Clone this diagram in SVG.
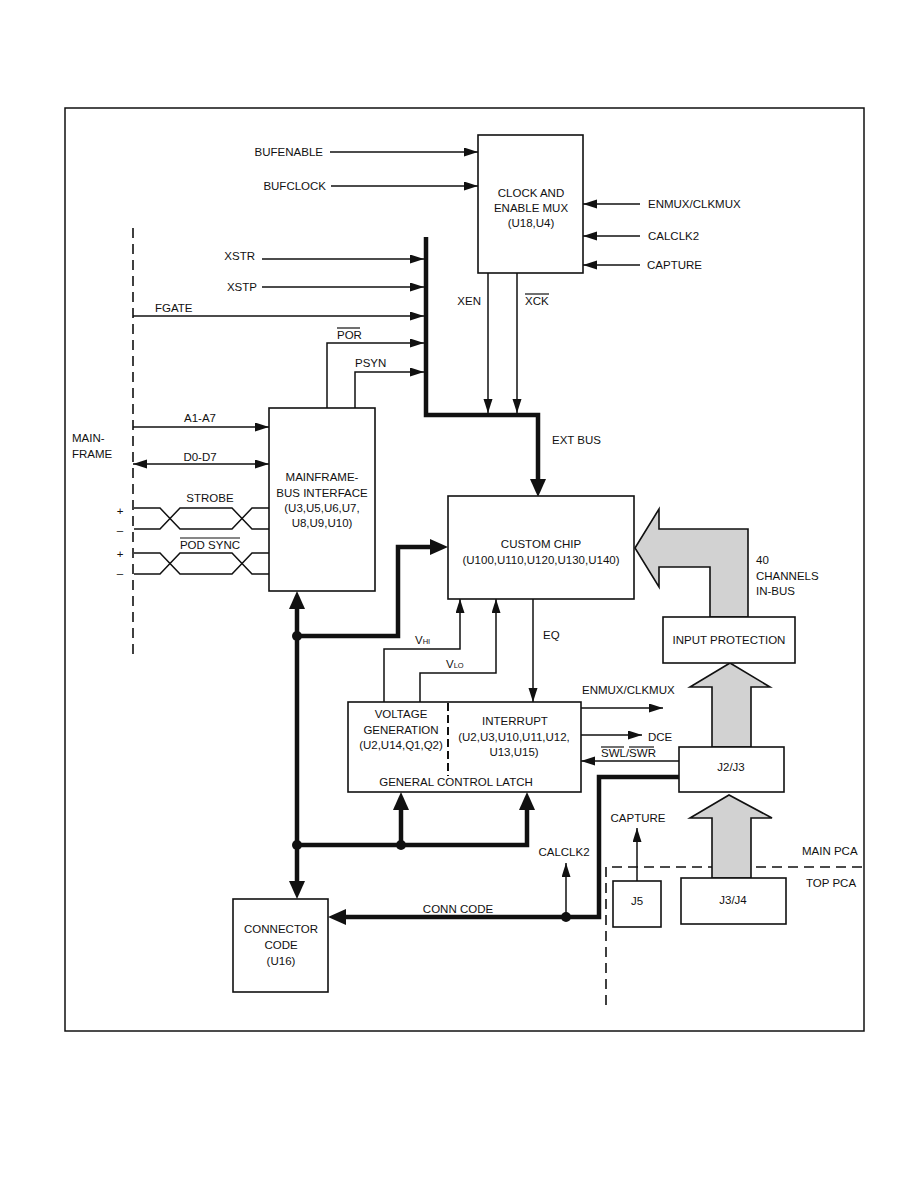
<svg xmlns="http://www.w3.org/2000/svg" width="918" height="1188" viewBox="0 0 918 1188">
<style>
text{font-family:"Liberation Sans",Arial,sans-serif;font-size:11.5px;fill:#111}
.m{text-anchor:middle}
.e{text-anchor:end}
.box{fill:#fff;stroke:#111;stroke-width:1.6}
.t{fill:none;stroke:#111;stroke-width:1.5}
.ta{fill:none;stroke:#111;stroke-width:1.5;marker-end:url(#ah)}
.k{fill:none;stroke:#111;stroke-width:4.5;stroke-linejoin:miter}
.ka{fill:#111}
.d{fill:none;stroke:#111;stroke-width:1.6;stroke-dasharray:10 6}
.sh{fill:#d2d2d2;stroke:#111;stroke-width:1.6}
.ob{stroke:#111;stroke-width:1.2}
</style>
<defs>
<marker id="ah" markerUnits="userSpaceOnUse" markerWidth="15" markerHeight="10" refX="14" refY="4.5" orient="auto-start-reverse">
<path d="M0,0 L14,4.5 L0,9 z" fill="#111"/>
</marker>
</defs>
<rect x="0" y="0" width="918" height="1188" fill="#fff"/>
<rect x="65" y="108" width="799" height="923" fill="none" stroke="#111" stroke-width="1.5"/>

<g id="dashed">
<line class="d" x1="133" y1="228" x2="133" y2="660"/>
<polyline class="d" points="606,1005 606,867 864,867"/>
</g>

<g id="connectors">
<line class="ta" x1="330" y1="152" x2="478" y2="152"/>
<line class="ta" x1="331" y1="186" x2="478" y2="186"/>
<line class="ta" x1="640" y1="204" x2="583" y2="204"/>
<line class="ta" x1="640" y1="236" x2="583" y2="236"/>
<line class="ta" x1="640" y1="265" x2="583" y2="265"/>
<line class="ta" x1="262" y1="259" x2="424" y2="259"/>
<line class="ta" x1="262" y1="287" x2="424" y2="287"/>
<line class="ta" x1="133" y1="316" x2="424" y2="316"/>
<path class="ta" d="M327,408 V343 H424"/>
<path class="ta" d="M355,408 V372 H424"/>
<path class="ta" d="M488,273 V413"/>
<path class="ta" d="M517,273 V413"/>
<line class="ta" x1="133" y1="427" x2="269" y2="427"/>
<line class="ta" x1="133" y1="464" x2="269" y2="464" marker-start="url(#ah)"/>
<path class="t" d="M134,508 H160 L180,529 H232 L252,508 H269"/>
<path class="t" d="M134,529 H160 L180,508 H232 L252,529 H269"/>
<path class="t" d="M134,553 H160 L180,574 H232 L252,553 H269"/>
<path class="t" d="M134,574 H160 L180,553 H232 L252,574 H269"/>
<path class="ta" d="M384,702 V649 H460 V599"/>
<path class="ta" d="M420,702 V673 H496 V599"/>
<path class="ta" d="M533,599 V702"/>
<line class="ta" x1="581" y1="708" x2="663" y2="708"/>
<line class="ta" x1="581" y1="735" x2="642" y2="735"/>
<line class="ta" x1="679" y1="761" x2="581" y2="761"/>
<line class="ta" x1="566" y1="917" x2="566" y2="863"/>
<line class="ta" x1="637" y1="881" x2="637" y2="828"/>

<path class="k" d="M426,237 V415 H538 V480"/>
<polygon class="ka" points="530,479 546,479 538,497"/>
<path class="k" d="M297,609 V882"/>
<polygon class="ka" points="289,609 305,609 297,591"/>
<polygon class="ka" points="289,881 305,881 297,899"/>
<path class="k" d="M297,636 H398 V547 H431"/>
<polygon class="ka" points="430,539 430,555 448,547"/>
<path class="k" d="M297,845 H527 V809"/>
<polygon class="ka" points="519,810 535,810 527,792"/>
<path class="k" d="M401,845 V809"/>
<polygon class="ka" points="393,810 409,810 401,792"/>
<path class="k" d="M679,777 H599 V917 H345"/>
<polygon class="ka" points="346,909 346,925 328,917"/>
<circle cx="297" cy="636" r="5" fill="#111"/>
<circle cx="297" cy="845" r="5" fill="#111"/>
<circle cx="401" cy="845" r="5" fill="#111"/>
<circle cx="566" cy="917" r="5" fill="#111"/>

<polygon class="sh" points="635,548 659,509 659,529 748,529 748,617 710,617 710,567 659,567 659,587"/>
<polygon class="sh" points="712,747 712,687 690,687 730,663 770,687 751,687 751,747"/>
<polygon class="sh" points="712,878 712,818 690,818 729,795 772,818 751,818 751,878"/>
</g>

<g id="labels">
<text class="e" x="323" y="156">BUFENABLE</text>
<text class="e" x="326" y="190">BUFCLOCK</text>
<text x="648" y="208">ENMUX/CLKMUX</text>
<text x="648" y="240">CALCLK2</text>
<text x="647" y="269">CAPTURE</text>
<text class="e" x="255" y="260">XSTR</text>
<text class="e" x="257" y="291">XSTP</text>
<text x="155" y="312">FGATE</text>
<text x="337" y="339">POR</text>
<line class="ob" x1="337" y1="328" x2="360" y2="328"/>
<text x="355" y="367">PSYN</text>
<text class="e" x="481" y="305">XEN</text>
<text x="525" y="305">XCK</text>
<line class="ob" x1="525" y1="294" x2="549" y2="294"/>
<text x="552" y="444">EXT BUS</text>
<text x="72" y="442">MAIN-</text>
<text x="72" y="458">FRAME</text>
<text class="m" x="200" y="422">A1-A7</text>
<text class="m" x="200" y="461">D0-D7</text>
<text class="m" x="210" y="502">STROBE</text>
<text class="m" x="210" y="549">POD SYNC</text>
<line class="ob" x1="180" y1="538" x2="240" y2="538"/>
<text class="m" x="120" y="515">+</text>
<text class="m" x="120" y="534">–</text>
<text class="m" x="120" y="558">+</text>
<text class="m" x="120" y="577">–</text>
<text x="415" y="644">V<tspan font-size="7.5px">HI</tspan></text>
<text x="446" y="668">V<tspan font-size="7.5px">LO</tspan></text>
<text x="543" y="639">EQ</text>
<text x="756" y="564">40</text>
<text x="756" y="580">CHANNELS</text>
<text x="756" y="595">IN-BUS</text>
<text x="582" y="694">ENMUX/CLKMUX</text>
<text x="648" y="741">DCE</text>
<text x="601" y="757">SWL/SWR</text>
<line class="ob" x1="601" y1="747" x2="624" y2="747"/>
<line class="ob" x1="629" y1="747" x2="654" y2="747"/>
<text class="m" x="638" y="822">CAPTURE</text>
<text x="802" y="855">MAIN PCA</text>
<text x="806" y="887">TOP PCA</text>
<text class="m" x="564" y="856">CALCLK2</text>
<text class="m" x="458" y="913">CONN CODE</text>
</g>

<g id="clock-mux">
<rect class="box" x="478" y="135" width="105" height="138"/>
<text class="m" x="531" y="197">CLOCK AND</text>
<text class="m" x="531" y="212">ENABLE MUX</text>
<text class="m" x="531" y="227">(U18,U4)</text>
</g>
<g id="mainframe-bus-interface">
<rect class="box" x="269" y="408" width="106" height="183"/>
<text class="m" x="322" y="481">MAINFRAME-</text>
<text class="m" x="322" y="497">BUS INTERFACE</text>
<text class="m" x="322" y="512">(U3,U5,U6,U7,</text>
<text class="m" x="322" y="527">U8,U9,U10)</text>
</g>
<g id="custom-chip">
<rect class="box" x="448" y="496" width="186" height="103"/>
<text class="m" x="541" y="548">CUSTOM CHIP</text>
<text class="m" x="541" y="564">(U100,U110,U120,U130,U140)</text>
</g>
<g id="input-protection">
<rect class="box" x="663" y="617" width="132" height="46"/>
<text class="m" x="729" y="644">INPUT PROTECTION</text>
</g>
<g id="general-control-latch">
<rect class="box" x="348" y="702" width="233" height="90"/>
<line x1="448" y1="703" x2="448" y2="776" stroke="#111" stroke-width="2" stroke-dasharray="8 4"/>
<text class="m" x="401" y="718">VOLTAGE</text>
<text class="m" x="401" y="734">GENERATION</text>
<text class="m" x="401" y="749">(U2,U14,Q1,Q2)</text>
<text class="m" x="515" y="725">INTERRUPT</text>
<text class="m" x="514" y="741">(U2,U3,U10,U11,U12,</text>
<text class="m" x="514" y="756">U13,U15)</text>
<text class="m" x="456" y="786">GENERAL CONTROL LATCH</text>
</g>
<g id="j2j3">
<rect class="box" x="679" y="747" width="105" height="45"/>
<text class="m" x="731" y="771">J2/J3</text>
</g>
<g id="j5">
<rect class="box" x="613" y="881" width="48" height="46"/>
<text class="m" x="637" y="905">J5</text>
</g>
<g id="j3j4">
<rect class="box" x="681" y="878" width="105" height="46"/>
<text class="m" x="733" y="904">J3/J4</text>
</g>
<g id="connector-code">
<rect class="box" x="233" y="899" width="95" height="93"/>
<text class="m" x="281" y="933">CONNECTOR</text>
<text class="m" x="281" y="949">CODE</text>
<text class="m" x="281" y="965">(U16)</text>
</g>
</svg>
